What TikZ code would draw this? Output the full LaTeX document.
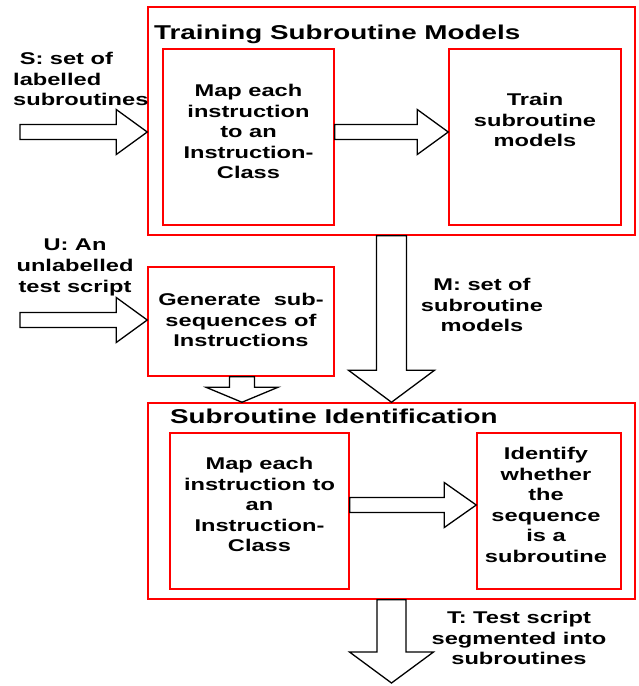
\documentclass[tikz,border=0pt]{standalone}
\usepackage{fontspec}
\newfontfamily\diafont[FakeStretch=1.39]{Liberation Sans}
\usetikzlibrary{calc}

\tikzset{
  redbox/.style={draw=red, line width=1.5pt, inner sep=0pt},
  txt/.style={font=\diafont\bfseries\fontsize{17}{20.6}\selectfont, align=center, inner sep=0pt},
  head/.style={font=\diafont\bfseries\fontsize{20}{24}\selectfont, inner sep=0pt},
  fatarrow/.style={draw=black, line width=1.3pt, fill=white, line join=miter}
}

% block arrows: from, to, body half width, head half width, head length
\newcommand{\fatright}[5]{%
  \draw[fatarrow] let \p1=(#1), \p2=(#2) in
    ({\x1},{\y1+#3}) -- ({\x2-#5},{\y1+#3}) -- ({\x2-#5},{\y1+#4}) -- ({\x2},{\y1})
    -- ({\x2-#5},{\y1-#4}) -- ({\x2-#5},{\y1-#3}) -- ({\x1},{\y1-#3}) -- cycle;}
\newcommand{\fatdown}[5]{%
  \draw[fatarrow] let \p1=(#1), \p2=(#2) in
    ({\x1-#3},{\y1}) -- ({\x1-#3},{\y2+#5}) -- ({\x1-#4},{\y2+#5}) -- ({\x1},{\y2})
    -- ({\x1+#4},{\y2+#5}) -- ({\x1+#3},{\y2+#5}) -- ({\x1+#3},{\y1}) -- cycle;}

\begin{document}
\begin{tikzpicture}[x=1pt,y=-1pt]
  \useasboundingbox (0,0) rectangle (639,686);

  \node[redbox, minimum width=487pt, minimum height=228pt] (train) at (391.5,121) {};
  \node[head, anchor=base west] (trainhd) at (154,39) {Training Subroutine Models};
  \node[redbox, minimum width=171pt, minimum height=176pt] (maptop) at (248.5,137) {};
  \node[txt, anchor=north] (maptoptxt) at (248.5,84) {Map each\\instruction\\to an\\Instruction-\\Class};
  \node[redbox, minimum width=172pt, minimum height=176pt] (trainbox) at (535,137) {};
  \node[txt, anchor=north] (trainboxtxt) at (535,93) {Train\\subroutine\\models};

  \node[redbox, minimum width=186pt, minimum height=109pt] (gen) at (241,321.5) {};
  \node[txt, anchor=north] (gentxt) at (241,293) {Generate~~sub-\\sequences of\\Instructions};

  \node[redbox, minimum width=487pt, minimum height=196pt] (ident) at (391.5,501) {};
  \node[head, anchor=base west] (identhd) at (170,423) {Subroutine Identification};
  \node[redbox, minimum width=179pt, minimum height=156pt] (mapbot) at (259.5,511) {};
  \node[txt, anchor=north] (mapbottxt) at (259.5,457) {Map each\\instruction to\\an\\Instruction-\\Class};
  \node[redbox, minimum width=144pt, minimum height=156pt] (identbox) at (549,511) {};
  \node[txt, anchor=north] (identboxtxt) at (546,447) {Identify\\whether\\the\\sequence\\is a\\subroutine};

  \node[txt, anchor=north west, align=left] (slbl) at (13,52) {~S: set of\\labelled\\subroutines};
  \node[txt, anchor=north] (ulbl) at (75,239) {U: An\\unlabelled\\test script};
  \node[txt, anchor=north] (mlbl) at (482,278) {M: set of\\subroutine\\models};
  \node[txt, anchor=north] (tlbl) at (519,611) {T: Test script\\segmented into\\subroutines};

  \coordinate (sin) at (20,132);
  \coordinate (uin) at (20,320);
  \coordinate (tout) at (391.5,683);

  \fatright{sin}{sin -| train.west}{7.5pt}{22.5pt}{31pt}
  \fatright{$(maptop.east)+(0,-5)$}{$(trainbox.west)+(0,-5)$}{7.5pt}{22.5pt}{31pt}
  \fatright{uin}{uin -| gen.west}{7.5pt}{22.5pt}{31pt}
  \fatright{$(mapbot.east)+(0,-6)$}{$(identbox.west)+(0,-6)$}{7.5pt}{22.5pt}{32pt}
  \fatdown{train.south}{ident.north}{15pt}{43pt}{32pt}
  \fatdown{$(gen.south)+(1,0)$}{ident.north}{12.5pt}{36pt}{15pt}
  \fatdown{ident.south}{tout}{14.5pt}{42pt}{31pt}
\end{tikzpicture}
\end{document}
